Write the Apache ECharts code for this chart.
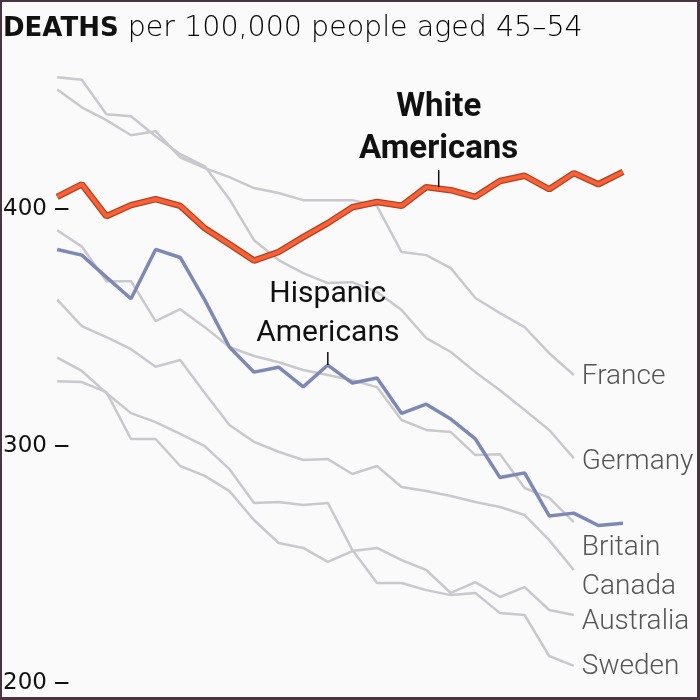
<!DOCTYPE html>
<html>
<head>
<meta charset="utf-8">
<script src="https://cdn.jsdelivr.net/npm/echarts@6/dist/echarts.min.js"></script>
<style>
  html, body { margin: 0; padding: 0; background: #fafafa; }
  #chart { width: 700px; height: 700px; }
  #frame {
    position: absolute; left: 0; top: 0; width: 700px; height: 700px;
    box-sizing: border-box; pointer-events: none;
    border-style: solid; border-color: #4a3440;
    border-width: 2px 3px 3px 2px;
  }
</style>
</head>
<body>
<div id="chart"></div>
<div id="frame"></div>
<script>
// data
const years = ['1990','1991','1992','1993','1994','1995','1996','1997','1998','1999','2000','2001',
  '2002','2003','2004','2005','2006','2007','2008','2009','2010','2011','2012','2013'];
const yTicks = [200, 300, 400];

const whiteUS = [405.2, 410.5, 397.0, 401.7, 404.2, 401.4, 391.9, 385.2, 378.3, 381.9, 388.2, 394.1,
  400.8, 403.0, 401.4, 409.3, 408.0, 405.2, 411.9, 414.1, 408.4, 415.2, 410.5, 415.7];
const hispanicUS = [383.0, 380.6, 371.3, 362.2, 383.0, 379.6, 361.6, 341.8, 331.2, 333.3, 325.0, 334.2,
  326.6, 328.7, 313.8, 317.7, 311.4, 303.0, 286.7, 288.7, 270.5, 271.7, 266.5, 267.4];

const france = [450.5, 443.0, 437.6, 431.2, 432.9, 421.9, 417.3, 413.5, 408.9, 406.8, 403.8, 403.8,
  403.8, 401.3, 381.9, 380.6, 375.1, 362.5, 356.1, 350.2, 339.2, 330.0];
const germany = [455.7, 454.6, 440.1, 439.2, 430.8, 423.2, 418.1, 404.2, 386.9, 378.5, 373.0, 368.8,
  369.2, 365.0, 357.4, 345.6, 339.7, 331.2, 323.6, 315.2, 306.8, 294.9];
const britain = [391.1, 384.2, 369.6, 369.6, 352.7, 357.8, 350.2, 341.8, 338.0, 335.4, 332.1, 330.0,
  327.8, 324.9, 311.0, 306.8, 305.9, 296.2, 296.6, 282.3, 278.1, 267.9];
const canada = [361.8, 350.6, 346.0, 340.9, 333.5, 336.3, 322.4, 308.9, 301.8, 297.6, 294.1, 294.5,
  288.2, 291.6, 282.7, 281.0, 278.9, 276.4, 274.3, 270.9, 260.3, 247.7];
const australia = [327.4, 327.0, 322.8, 303.0, 303.0, 291.6, 287.4, 281.0, 268.8, 259.1, 257.0, 251.1,
  255.7, 257.0, 251.9, 247.7, 238.0, 242.6, 236.3, 240.5, 230.8, 228.7];
const sweden = [337.3, 331.7, 322.4, 313.9, 310.1, 305.1, 300.0, 290.3, 276.0, 276.4, 275.1, 276.0,
  256.1, 242.2, 242.2, 239.2, 237.1, 238.0, 229.5, 228.7, 211.4, 207.2];

const countries = [
  { name: 'France', data: france, shift: 2 },
  { name: 'Germany', data: germany, shift: 4 },
  { name: 'Britain', data: britain, shift: 26 },
  { name: 'Canada', data: canada, shift: 17 },
  { name: 'Australia', data: australia, shift: 7 },
  { name: 'Sweden', data: sweden, shift: 1 }
];

const chart = echarts.init(document.getElementById('chart'));

const countrySeries = countries.map(function (c) {
  return {
    name: c.name,
    type: 'line',
    data: c.data,
    symbol: 'none',
    silent: true,
    lineStyle: { color: '#c9c9cd', width: 2.5 },
    endLabel: {
      show: true,
      formatter: '{a}',
      distance: 8,
      offset: [0, c.shift],
      color: '#555',
      fontFamily: 'Roboto',
      fontWeight: 300,
      fontSize: 28
    }
  };
});

const option = {
  backgroundColor: '#fafafa',
  animation: false,
  title: {
    left: 3,
    top: 12,
    padding: 0,
    text: '{b|DEATHS}{l| per 100,000 people aged 45–54}',
    textStyle: {
      lineHeight: 34,
      rich: {
        b: { fontFamily: 'DejaVu Sans', fontWeight: 'bold', fontSize: 26, color: '#111', lineHeight: 34 },
        l: { fontFamily: 'DejaVu Sans', fontWeight: 300, fontSize: 28.5, color: '#000', lineHeight: 34 }
      }
    }
  },
  grid: { left: 55, right: 77, top: 67, bottom: 17, containLabel: false },
  xAxis: {
    type: 'category',
    data: years,
    boundaryGap: false,
    show: false
  },
  yAxis: {
    type: 'value',
    min: 200,
    max: 460,
    interval: 100,
    axisLine: { show: false },
    axisTick: { show: false },
    splitLine: { show: false },
    axisLabel: {
      margin: -12,
      color: '#111',
      fontFamily: 'DejaVu Sans',
      fontWeight: 400,
      fontSize: 23,
      formatter: function (v) {
        return yTicks.indexOf(v) >= 0 ? v + ' {d|—}' : '';
      },
      rich: {
        d: { fontFamily: 'DejaVu Sans', fontWeight: 'bold', fontSize: 15, color: '#111', verticalAlign: 'middle' }
      }
    }
  },
  series: countrySeries.concat([
    {
      name: 'Hispanic Americans',
      type: 'line',
      data: hispanicUS,
      symbol: 'none',
      lineStyle: { color: '#7d88b4', width: 3.5 },
      markPoint: {
        symbol: 'rect',
        symbolSize: [1.5, 13],
        symbolOffset: [0, -6.5],
        itemStyle: { color: '#111' },
        label: {
          show: true,
          position: 'top',
          distance: -1,
          formatter: 'Hispanic\nAmericans',
          color: '#111',
          fontFamily: 'Roboto',
          fontWeight: 400,
          fontSize: 30,
          lineHeight: 39,
          align: 'center'
        },
        data: [{ coord: [years[11], hispanicUS[11]] }]
      }
    },
    {
      name: 'White outline',
      type: 'line',
      data: whiteUS,
      symbol: 'none',
      silent: true,
      lineStyle: { color: '#b83e1c', width: 6.5 }
    },
    {
      name: 'White Americans',
      type: 'line',
      data: whiteUS,
      symbol: 'none',
      lineStyle: { color: '#f4623a', width: 4 },
      markPoint: {
        symbol: 'rect',
        symbolSize: [1.5, 17],
        symbolOffset: [12.5, -8.5],
        itemStyle: { color: '#111' },
        label: {
          show: true,
          position: 'top',
          distance: -1,
          formatter: 'White\nAmericans',
          color: '#111',
          fontFamily: 'Roboto',
          fontWeight: 700,
          fontSize: 33,
          lineHeight: 42,
          align: 'center'
        },
        data: [{ coord: [years[15], whiteUS[15]] }]
      }
    }
  ])
};

chart.setOption(option);
window.addEventListener('resize', function () { chart.resize(); });
</script>
</body>
</html>
